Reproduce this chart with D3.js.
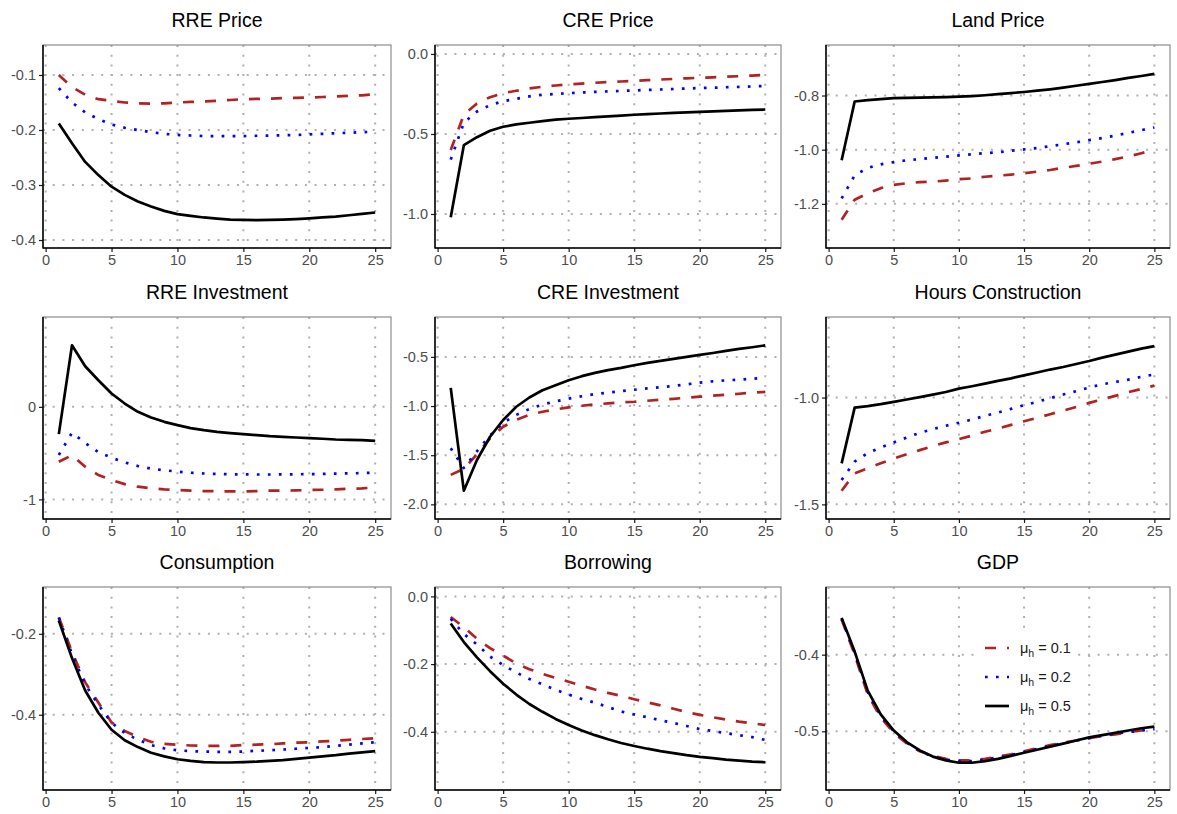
<!DOCTYPE html>
<html>
<head>
<meta charset="utf-8">
<script src="https://cdn.jsdelivr.net/npm/d3@7"></script>
<style>
  body { margin: 0; background: #fff; }
  svg { font-family: "Liberation Sans", Arial, sans-serif; }
</style>
</head>
<body>
<div id="chart"></div>
<script>
// chart data -----------------------------------------------------------
const periods = d3.range(1, 26);
const xTicks = [0, 5, 10, 15, 20, 25];

const titles = ["RRE Price", "CRE Price", "Land Price",
  "RRE Investment", "CRE Investment", "Hours Construction",
  "Consumption", "Borrowing", "GDP"];

// y limits and y ticks
const yDomains = [
  [-0.4145, -0.0455], [-1.2125, 0.056], [-1.363, -0.6135],
  [-1.212, 0.971], [-2.149, -0.094], [-1.5685, -0.623],
  [-0.586, -0.0843], [-0.572, 0.0277], [-0.5766, -0.3117]
];
const yTicks = [
  [-0.4, -0.3, -0.2, -0.1], [-1.0, -0.5, 0.0], [-1.2, -1.0, -0.8],
  [-1, 0], [-2.0, -1.5, -1.0, -0.5], [-1.5, -1.0],
  [-0.4, -0.2], [-0.4, -0.2, 0.0], [-0.5, -0.4]
];
const yDecimals = [1, 1, 1, 0, 1, 1, 1, 1, 1];

const seriesNames = ["0.1", "0.2", "0.5"];

// mu_h = 0.1 (red dashed)
const mu01 = [
  [-0.100, -0.122, -0.136, -0.144, -0.147, -0.150, -0.1515, -0.152, -0.1515, -0.150, -0.149, -0.148, -0.147, -0.1455, -0.144, -0.1435, -0.143, -0.142, -0.1415, -0.141, -0.140, -0.139, -0.138, -0.137, -0.135],
  [-0.600, -0.380, -0.310, -0.270, -0.245, -0.230, -0.215, -0.205, -0.197, -0.190, -0.185, -0.180, -0.176, -0.172, -0.168, -0.164, -0.160, -0.156, -0.152, -0.149, -0.146, -0.142, -0.139, -0.135, -0.130],
  [-1.259, -1.185, -1.161, -1.142, -1.130, -1.124, -1.120, -1.118, -1.114, -1.109, -1.106, -1.100, -1.096, -1.092, -1.087, -1.081, -1.075, -1.067, -1.060, -1.052, -1.044, -1.035, -1.025, -1.013, -1.000],
  [-0.594, -0.522, -0.647, -0.737, -0.791, -0.835, -0.863, -0.881, -0.892, -0.899, -0.906, -0.910, -0.912, -0.914, -0.914, -0.910, -0.906, -0.906, -0.903, -0.899, -0.896, -0.892, -0.885, -0.881, -0.871],
  [-1.700, -1.640, -1.490, -1.330, -1.210, -1.140, -1.090, -1.058, -1.034, -1.014, -0.997, -0.983, -0.973, -0.963, -0.956, -0.946, -0.936, -0.926, -0.915, -0.905, -0.895, -0.885, -0.875, -0.864, -0.856],
  [-1.436, -1.355, -1.331, -1.308, -1.285, -1.265, -1.246, -1.227, -1.210, -1.195, -1.178, -1.160, -1.145, -1.128, -1.111, -1.095, -1.078, -1.061, -1.044, -1.025, -1.009, -0.992, -0.975, -0.960, -0.944],
  [-0.159, -0.245, -0.320, -0.370, -0.419, -0.440, -0.455, -0.467, -0.472, -0.474, -0.476, -0.477, -0.477, -0.477, -0.475, -0.474, -0.473, -0.471, -0.469, -0.468, -0.466, -0.464, -0.462, -0.460, -0.458],
  [-0.061, -0.091, -0.125, -0.153, -0.175, -0.198, -0.215, -0.229, -0.241, -0.252, -0.264, -0.275, -0.285, -0.294, -0.304, -0.313, -0.322, -0.332, -0.342, -0.350, -0.357, -0.364, -0.370, -0.375, -0.380],
  [-0.354, -0.400, -0.452, -0.482, -0.502, -0.516, -0.526, -0.532, -0.536, -0.538, -0.538, -0.536, -0.533, -0.530, -0.526, -0.522, -0.518, -0.515, -0.512, -0.509, -0.506, -0.504, -0.501, -0.499, -0.497]
];

// mu_h = 0.2 (blue dotted)
const mu02 = [
  [-0.124, -0.150, -0.168, -0.180, -0.190, -0.196, -0.200, -0.204, -0.207, -0.209, -0.210, -0.211, -0.211, -0.211, -0.211, -0.2105, -0.210, -0.2095, -0.209, -0.208, -0.207, -0.206, -0.205, -0.204, -0.203],
  [-0.660, -0.430, -0.360, -0.320, -0.295, -0.280, -0.265, -0.255, -0.250, -0.245, -0.241, -0.237, -0.234, -0.231, -0.228, -0.225, -0.222, -0.219, -0.216, -0.213, -0.211, -0.208, -0.206, -0.203, -0.200],
  [-1.180, -1.095, -1.067, -1.054, -1.046, -1.039, -1.035, -1.030, -1.026, -1.021, -1.017, -1.013, -1.010, -1.004, -0.999, -0.994, -0.987, -0.980, -0.973, -0.965, -0.957, -0.948, -0.938, -0.928, -0.918],
  [-0.520, -0.280, -0.390, -0.490, -0.550, -0.600, -0.640, -0.668, -0.685, -0.700, -0.712, -0.720, -0.725, -0.728, -0.730, -0.731, -0.731, -0.730, -0.729, -0.727, -0.725, -0.722, -0.719, -0.716, -0.712],
  [-1.430, -1.630, -1.460, -1.300, -1.170, -1.090, -1.030, -0.985, -0.952, -0.925, -0.900, -0.878, -0.863, -0.848, -0.834, -0.820, -0.808, -0.796, -0.779, -0.762, -0.748, -0.739, -0.731, -0.722, -0.713],
  [-1.386, -1.300, -1.260, -1.234, -1.210, -1.187, -1.165, -1.148, -1.132, -1.118, -1.103, -1.086, -1.070, -1.053, -1.036, -1.020, -1.003, -0.986, -0.970, -0.953, -0.938, -0.927, -0.916, -0.903, -0.892],
  [-0.160, -0.250, -0.325, -0.375, -0.420, -0.445, -0.462, -0.475, -0.483, -0.488, -0.490, -0.491, -0.492, -0.492, -0.491, -0.489, -0.488, -0.486, -0.484, -0.482, -0.480, -0.477, -0.474, -0.471, -0.468],
  [-0.066, -0.111, -0.142, -0.178, -0.203, -0.225, -0.244, -0.260, -0.276, -0.290, -0.303, -0.314, -0.327, -0.340, -0.349, -0.357, -0.366, -0.374, -0.383, -0.392, -0.398, -0.404, -0.410, -0.416, -0.424],
  [-0.353, -0.398, -0.449, -0.480, -0.500, -0.515, -0.526, -0.533, -0.537, -0.539, -0.539, -0.537, -0.534, -0.531, -0.527, -0.523, -0.519, -0.516, -0.512, -0.509, -0.506, -0.503, -0.501, -0.499, -0.497]
];

// mu_h = 0.5 (black solid)
const mu05 = [
  [-0.188, -0.224, -0.258, -0.282, -0.303, -0.318, -0.330, -0.339, -0.347, -0.353, -0.356, -0.359, -0.361, -0.363, -0.3635, -0.364, -0.3635, -0.363, -0.362, -0.3605, -0.359, -0.3575, -0.355, -0.3525, -0.350],
  [-1.020, -0.570, -0.520, -0.480, -0.455, -0.440, -0.430, -0.420, -0.410, -0.405, -0.400, -0.395, -0.390, -0.385, -0.380, -0.376, -0.372, -0.368, -0.365, -0.362, -0.359, -0.356, -0.353, -0.350, -0.347],
  [-1.039, -0.822, -0.817, -0.813, -0.810, -0.809, -0.808, -0.807, -0.806, -0.804, -0.802, -0.799, -0.795, -0.791, -0.787, -0.782, -0.777, -0.771, -0.764, -0.757, -0.750, -0.743, -0.735, -0.728, -0.720],
  [-0.295, 0.665, 0.439, 0.288, 0.144, 0.036, -0.054, -0.115, -0.162, -0.198, -0.230, -0.252, -0.270, -0.284, -0.295, -0.306, -0.317, -0.324, -0.331, -0.338, -0.345, -0.353, -0.356, -0.360, -0.367],
  [-0.815, -1.861, -1.549, -1.312, -1.142, -1.007, -0.913, -0.839, -0.788, -0.737, -0.696, -0.663, -0.635, -0.612, -0.585, -0.561, -0.541, -0.520, -0.500, -0.480, -0.460, -0.439, -0.419, -0.402, -0.382],
  [-1.308, -1.047, -1.040, -1.031, -1.020, -1.009, -0.998, -0.986, -0.974, -0.958, -0.947, -0.935, -0.922, -0.910, -0.896, -0.883, -0.869, -0.857, -0.843, -0.829, -0.813, -0.799, -0.785, -0.771, -0.759],
  [-0.167, -0.260, -0.340, -0.395, -0.437, -0.463, -0.480, -0.494, -0.503, -0.510, -0.514, -0.517, -0.518, -0.518, -0.517, -0.516, -0.514, -0.512, -0.509, -0.506, -0.503, -0.500, -0.496, -0.493, -0.490],
  [-0.080, -0.135, -0.180, -0.221, -0.258, -0.290, -0.318, -0.341, -0.362, -0.380, -0.396, -0.410, -0.422, -0.433, -0.442, -0.450, -0.457, -0.463, -0.469, -0.474, -0.478, -0.482, -0.485, -0.488, -0.490],
  [-0.352, -0.396, -0.447, -0.478, -0.499, -0.514, -0.525, -0.533, -0.538, -0.541, -0.541, -0.539, -0.536, -0.532, -0.528, -0.524, -0.520, -0.516, -0.512, -0.508, -0.505, -0.502, -0.499, -0.496, -0.494]
];

// styles --------------------------------------------------------------
const series = [
  { name: seriesNames[0], values: mu01, color: "#B22222", dash: "11,11" },
  { name: seriesNames[1], values: mu02, color: "#0000FF", dash: "2.7,8.3" },
  { name: seriesNames[2], values: mu05, color: "#000000", dash: null }
];

const width = 1177;
const height = 814;
const colLeft = [43, 435, 826];
const colRight = [391, 781, 1170];
const rowTop = [45, 317, 587];
const rowBottom = [248, 519, 790];

const svg = d3.select("#chart").append("svg")
    .attr("width", width)
    .attr("height", height);

svg.append("rect")
    .attr("width", width)
    .attr("height", height)
    .attr("fill", "#fff");

titles.forEach((title, i) => {
    const col = i % 3;
    const row = Math.floor(i / 3);
    const x0 = colLeft[col], x1 = colRight[col];
    const y0 = rowTop[row], y1 = rowBottom[row];

    const x = d3.scaleLinear().domain([-0.2, 26.2]).range([x0, x1]);
    const y = d3.scaleLinear().domain(yDomains[i]).range([y1, y0]);

    const g = svg.append("g").classed("panel", true);

    // grid lines (dotted)
    g.selectAll(".vgrid")
        .data(xTicks)
        .enter()
        .append("line")
        .attr("x1", d => x(d)).attr("x2", d => x(d))
        .attr("y1", y0).attr("y2", y1)
        .attr("stroke", "#b0b0b0")
        .attr("stroke-width", 2)
        .attr("stroke-dasharray", "2,7.7");

    g.selectAll(".hgrid")
        .data(yTicks[i])
        .enter()
        .append("line")
        .attr("x1", x0).attr("x2", x1)
        .attr("y1", d => y(d)).attr("y2", d => y(d))
        .attr("stroke", "#b0b0b0")
        .attr("stroke-width", 2)
        .attr("stroke-dasharray", "2,7.7");

    // panel border (light top/right)
    g.append("rect")
        .attr("x", x0).attr("y", y0)
        .attr("width", x1 - x0).attr("height", y1 - y0)
        .attr("fill", "none")
        .attr("stroke", "#8c8c8c")
        .attr("stroke-width", 1.2);

    // series lines
    const line = d3.line()
        .x((d, j) => x(periods[j]))
        .y(d => y(d));

    series.forEach(s => {
        g.append("path")
            .datum(s.values[i])
            .attr("d", line)
            .attr("fill", "none")
            .attr("stroke", s.color)
            .attr("stroke-width", 2.7)
            .attr("stroke-linejoin", "round")
            .attr("stroke-dasharray", s.dash);
    });

    // axes
    const fmt = d3.format(`.${yDecimals[i]}f`);
    const xAxis = d3.axisBottom(x).tickValues(xTicks).tickSize(4).tickPadding(3);
    const yAxis = d3.axisLeft(y).tickValues(yTicks[i]).tickSize(4).tickPadding(3)
        .tickFormat(d => fmt(d).replace("\u2212", "-"));

    const xAxisG = g.append("g")
        .attr("transform", `translate(0, ${y1})`)
        .call(xAxis);
    const yAxisG = g.append("g")
        .attr("transform", `translate(${x0}, 0)`)
        .call(yAxis);

    [xAxisG, yAxisG].forEach(a => {
        a.select(".domain").remove();
        a.selectAll(".tick line").attr("stroke", "#1a1a1a").attr("stroke-width", 1.2);
        a.selectAll(".tick text")
            .attr("fill", "#4d4d4d")
            .style("font-size", "14.5px")
            .style("font-family", "'Liberation Sans', Arial, sans-serif");
    });

    // axis lines (left and bottom)
    g.append("line")
        .attr("x1", x0).attr("x2", x0).attr("y1", y0).attr("y2", y1 + 0.6)
        .attr("stroke", "#000").attr("stroke-width", 1.5);
    g.append("line")
        .attr("x1", x0).attr("x2", x1).attr("y1", y1).attr("y2", y1)
        .attr("stroke", "#000").attr("stroke-width", 1.5);

    // title
    svg.append("text")
        .attr("x", (x0 + x1) / 2)
        .attr("y", y0 - 18)
        .attr("text-anchor", "middle")
        .attr("fill", "#000")
        .style("font-size", "19.5px")
        .text(title);

    // legend inside the GDP panel
    if (i === 8) {
        const leg = svg.append("g").attr("transform", "translate(980, 633)");
        leg.append("rect")
            .attr("width", 97).attr("height", 88)
            .attr("fill", "#fff");
        series.forEach((s, k) => {
            const ly = 15 + k * 29;
            leg.append("line")
                .attr("x1", 5).attr("x2", 29)
                .attr("y1", ly).attr("y2", ly)
                .attr("stroke", s.color)
                .attr("stroke-width", 2.7)
                .attr("stroke-dasharray", s.dash);
            const t = leg.append("text")
                .attr("x", 40).attr("y", ly + 5)
                .attr("fill", "#1a1a1a")
                .style("font-size", "14.5px");
            t.append("tspan").text("\u03bc");
            t.append("tspan").attr("dy", 4).style("font-size", "10.5px").text("h");
            t.append("tspan").attr("dy", -4).text(" = " + s.name);
        });
    }
});
</script>
</body>
</html>
